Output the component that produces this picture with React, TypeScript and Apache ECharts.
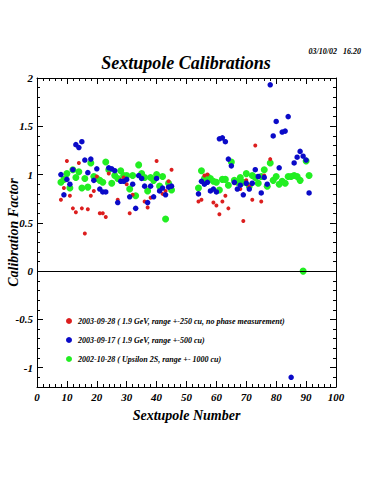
import React, { useEffect, useRef } from "react";
import * as echarts from "echarts";

const xTicks = [0, 10, 20, 30, 40, 50, 60, 70, 80, 90, 100];

const redLabel = "2003-09-28 ( 1.9 GeV, range +-250 cu, no phase measurement)";
const blueLabel = "2003-09-17 ( 1.9 GeV, range +-500 cu)";
const greenLabel = "2002-10-28 ( Upsilon 2S, range +- 1000 cu)";

const redX = [8, 9, 10, 11, 12, 13, 14, 15, 16, 17, 18, 19, 20, 21, 22, 23, 24, 27, 28, 29, 30, 31, 32, 36, 37, 38, 40, 42, 43, 44, 45,
  54, 55, 56, 57, 59, 60, 61, 62, 63, 64, 66, 68, 69, 70, 71, 72, 73, 75, 76, 78];
const redY = [0.74, 0.86, 1.14, 0.78, 0.65, 0.61, 1.12, 0.65, 0.39, 0.64, 0.78, 0.83, 0.98, 0.6, 0.6, 0.56, 1.01, 0.74, 0.94, 0.97, 0.9, 0.6, 0.79, 0.72, 0.66, 0.76, 1.14, 0.8, 0.83, 0.93, 1.05,
  0.72, 0.74, 0.99, 1.0, 0.71, 0.68, 0.59, 0.72, 0.78, 0.65, 0.91, 0.85, 0.52, 0.94, 0.88, 0.74, 1.3, 0.72, 0.99, 1.16];

const blueX = [8, 9, 10, 11, 12, 13, 14, 15, 16, 17, 18, 19, 20, 21, 22, 23, 24, 25, 26, 27, 28, 29, 30, 31, 32, 33, 34, 35, 36, 37, 38, 39, 40, 41, 42, 43, 44, 45,
  54, 55, 56, 57, 58, 59, 60, 61, 62, 63, 64, 65, 66, 67, 68, 69, 70, 71, 72, 73, 74, 75, 76, 77, 78, 79, 80, 81, 82, 83, 84, 85, 86, 87, 88, 89, 90, 91];
const blueY = [1.0, 0.79, 0.95, 0.9, 1.05, 1.31, 1.28, 1.34, 1.15, 1.02, 1.16, 0.94, 1.06, 0.85, 0.82, 0.82, 1.07, 1.06, 1.04, 0.71, 0.93, 0.93, 0.95, 0.77, 0.9, 0.65, 0.99, 0.96, 0.88, 0.71, 0.88, 0.77, 0.96, 0.83, 0.86, 0.79, 0.87, 0.88,
  0.8, 0.93, 0.9, 0.92, 0.83, 0.85, 0.82, 1.37, 1.38, 1.34, 1.16, 1.09, 0.92, 0.85, 0.89, 0.79, 0.91, 0.85, 0.91, 1.05, 0.98, 0.81, 0.97, 0.9, 1.93, 1.4, 1.55, 1.07, 1.44, 1.45, 1.6, -1.1, 1.12, 1.18, 1.24, 1.19, 1.15, 0.81];

const greenX = [8, 9, 10, 11, 12, 13, 14, 15, 16, 17, 18, 19, 20, 21, 22, 23, 24, 25, 26, 27, 28, 29, 30, 31, 32, 33, 34, 35, 36, 37, 38, 39, 40, 41, 42, 43, 44, 45,
  54, 55, 56, 57, 58, 59, 60, 61, 62, 63, 64, 65, 66, 67, 68, 69, 70, 71, 72, 73, 74, 75, 76, 77, 78, 79, 80, 81, 82, 83, 84, 85, 86, 87, 88, 89, 90, 91];
const greenY = [0.92, 0.95, 1.01, 0.86, 1.05, 0.97, 1.03, 0.86, 0.96, 0.87, 1.12, 0.98, 0.96, 0.94, 0.92, 1.13, 1.05, 0.91, 0.99, 0.96, 1.04, 0.99, 0.99, 0.85, 0.99, 0.78, 1.1, 1.01, 0.97, 0.83, 0.97, 0.94, 1.0, 0.88, 0.98, 0.54, 0.91, 0.84,
  0.86, 1.04, 0.96, 0.98, 0.96, 0.93, 0.92, 0.84, 0.95, 0.95, 0.89, 1.13, 0.94, 0.92, 0.97, 0.92, 1.01, 0.88, 0.99, 0.97, 0.91, 0.98, 1.05, 0.88, 1.12, 0.94, 0.98, 0.9, 0.93, 0.91, 0.98, 0.98, 0.99, 0.98, 0.94, 0.0, 1.14, 0.99];

const zip = (xs: number[], ys: number[]) => xs.map((x, i) => [x, ys[i]]);

const FONT = "Liberation Serif";

export default function App() {
  const ref = useRef<HTMLDivElement>(null);
  useEffect(() => {
    const chart = echarts.init(ref.current!, undefined, { renderer: "svg" });
    const axisText = { fontFamily: FONT, fontStyle: "italic" as const, fontWeight: "bold" as const, fontSize: 11, color: "#000" };
    const nameText = { fontFamily: FONT, fontStyle: "italic" as const, fontWeight: "bold" as const, fontSize: 14, color: "#000" };
    const xBase = {
      type: "value" as const,
      min: xTicks[0],
      max: xTicks[xTicks.length - 1],
      interval: 10,
      axisLine: { show: true, onZero: false, lineStyle: { color: "#000", width: 1 } },
      axisTick: { show: true, inside: true, length: 6, lineStyle: { color: "#000" } },
      minorTick: { show: true, splitNumber: 5, length: 3, lineStyle: { color: "#000" } },
      splitLine: { show: false },
    };
    const yBase = {
      type: "value" as const,
      min: -1.2,
      max: 2,
      splitNumber: 6,
      axisLine: { show: true, onZero: false, lineStyle: { color: "#000", width: 1 } },
      axisTick: { show: true, inside: true, length: 6, lineStyle: { color: "#000" } },
      minorTick: { show: true, splitNumber: 5, length: 3, lineStyle: { color: "#000" } },
      splitLine: { show: false },
    };
    chart.setOption({
      animation: false,
      backgroundColor: "#fff",
      title: [
        {
          text: "Sextupole Calibrations",
          left: 181,
          top: 49,
          textAlign: "center",
          textStyle: { fontFamily: FONT, fontStyle: "italic", fontWeight: "bold", fontSize: 18, color: "#000" },
        },
        {
          text: "03/10/02   16.20",
          right: 9,
          top: 42,
          textStyle: { fontFamily: FONT, fontStyle: "italic", fontWeight: "bold", fontSize: 8, color: "#000" },
        },
      ],
      grid: { left: 37, right: 39, top: 78, bottom: 113, containLabel: false, outerBoundsMode: "none" },
      legend: {
        orient: "vertical",
        left: 61,
        top: 312,
        itemGap: 11,
        itemWidth: 6,
        itemHeight: 6,
        icon: "circle",
        textStyle: { fontFamily: FONT, fontStyle: "italic", fontWeight: "bold", fontSize: 8, color: "#000", padding: [0, 0, 0, 1] },
        data: [redLabel, blueLabel, greenLabel],
      },
      xAxis: [
        {
          ...xBase,
          position: "bottom",
          name: "Sextupole Number",
          nameLocation: "middle",
          nameGap: 21,
          nameMoveOverlap: false,
          nameTextStyle: nameText,
          axisLabel: { ...axisText, margin: 4 },
        },
        { ...xBase, position: "top", axisLabel: { show: false } },
      ],
      yAxis: [
        {
          ...yBase,
          position: "left",
          name: "Calibration Factor",
          nameLocation: "middle",
          nameGap: 17,
          nameMoveOverlap: false,
          nameTextStyle: nameText,
          axisLabel: { ...axisText, margin: 4, showMinLabel: false },
        },
        { ...yBase, position: "right", axisLabel: { show: false } },
      ],
      series: [
        {
          name: redLabel,
          type: "scatter",
          symbol: "circle",
          symbolSize: 4,
          itemStyle: { color: "#dc1e1e", opacity: 1 },
          data: zip(redX, redY),
          z: 3,
          markLine: {
            silent: true,
            symbol: "none",
            label: { show: false },
            lineStyle: { color: "#000", width: 1, type: "solid" },
            data: [{ yAxis: 0 }],
          },
        },
        {
          name: blueLabel,
          type: "scatter",
          symbol: "circle",
          symbolSize: 5.5,
          itemStyle: { color: "#0a0ac8", opacity: 1 },
          data: zip(blueX, blueY),
          z: 4,
        },
        {
          name: greenLabel,
          type: "scatter",
          symbol: "circle",
          symbolSize: 7,
          itemStyle: { color: "#22ee22", opacity: 1 },
          data: zip(greenX, greenY),
          z: 2,
        },
      ],
    });
    return () => chart.dispose();
  }, []);
  return <div ref={ref} style={{ width: 375, height: 500, position: "absolute", left: 0, top: 0 }} />;
}
